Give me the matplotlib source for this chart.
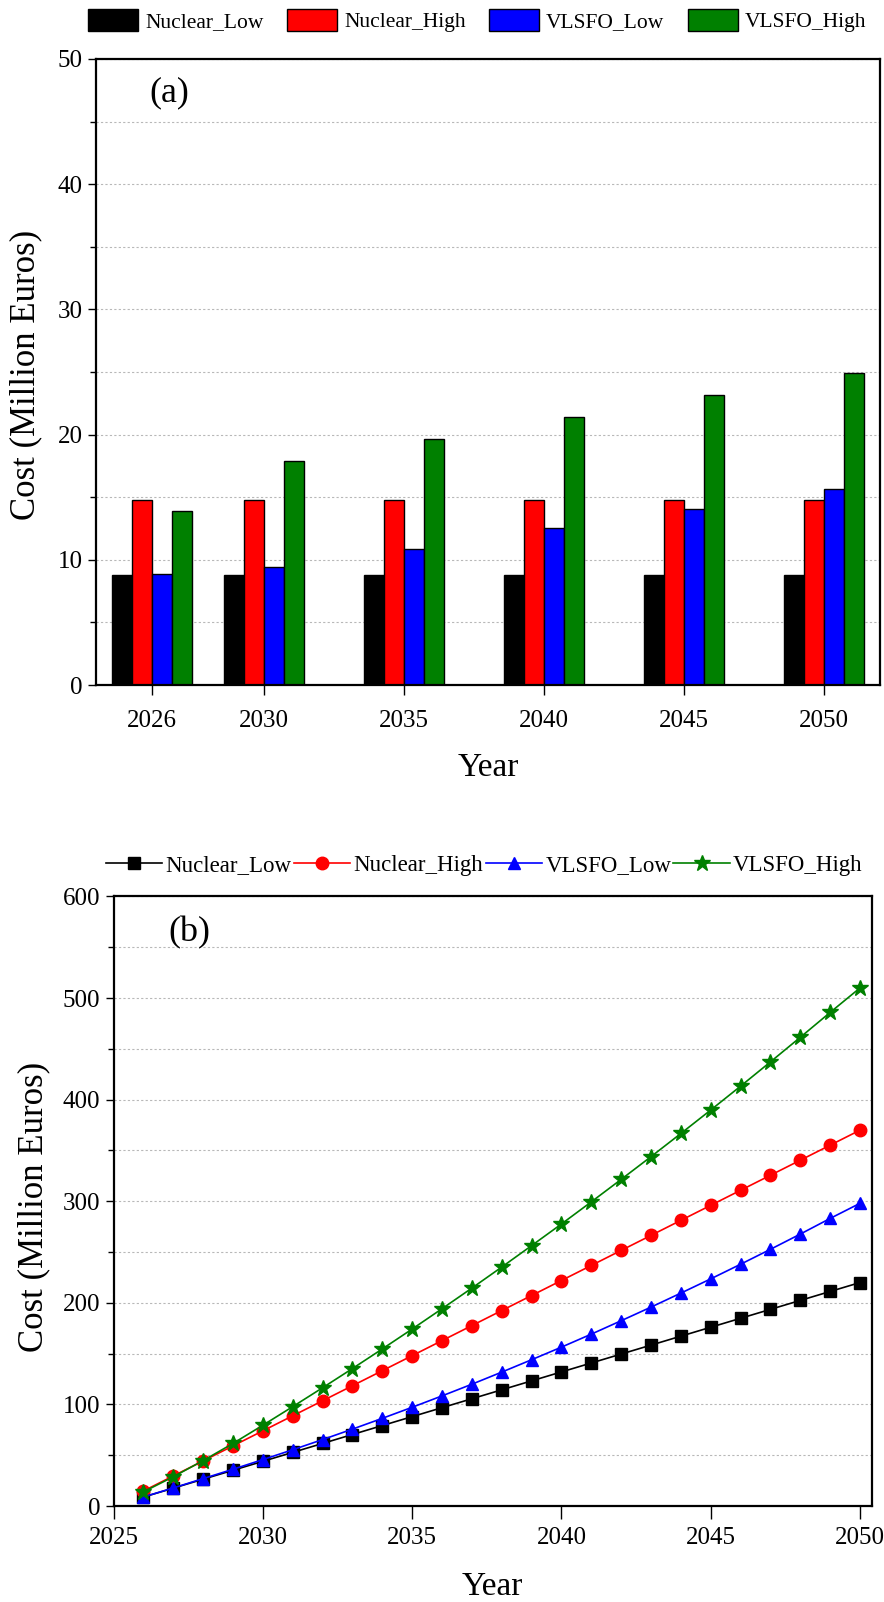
import numpy as np
import matplotlib
matplotlib.use("Agg")
import matplotlib.pyplot as plt
from matplotlib.ticker import MultipleLocator

plt.rcParams['font.family'] = ['Liberation Serif', 'DejaVu Serif']
plt.rcParams['mathtext.fontset'] = 'stix'

# ---- data ----
series = ["Nuclear_Low", "Nuclear_High", "VLSFO_Low", "VLSFO_High"]
colors = ["black", "red", "blue", "green"]

# (a) annual cost in selected years
bar_years = [2026, 2030, 2035, 2040, 2045, 2050]
nuc_low_bar = [8.8, 8.8, 8.8, 8.8, 8.8, 8.8]
nuc_high_bar = [14.8, 14.8, 14.8, 14.8, 14.8, 14.8]
vlsfo_low_bar = [8.9, 9.4, 10.9, 12.5, 14.05, 15.65]
vlsfo_high_bar = [13.9, 17.9, 19.65, 21.4, 23.15, 24.9]

# (b) cumulative cost, 2026-2050
years = list(range(2026, 2051))
nuc_low = [8.8, 17.6, 26.4, 35.2, 44.0, 52.8, 61.6, 70.4, 79.2, 88.0,
           96.8, 105.6, 114.4, 123.2, 132.0, 140.8, 149.6, 158.4, 167.2, 176.0,
           184.8, 193.6, 202.4, 211.2, 220.0]
nuc_high = [14.8, 29.6, 44.4, 59.2, 74.0, 88.8, 103.6, 118.4, 133.2, 148.0,
            162.8, 177.6, 192.4, 207.2, 222.0, 236.8, 251.6, 266.4, 281.2, 296.0,
            310.8, 325.6, 340.4, 355.2, 370.0]
vlsfo_low = [8.9, 17.8, 27.0, 36.2, 45.7, 55.4, 65.4, 75.7, 86.3, 97.2,
             108.4, 119.9, 131.8, 144.0, 156.4, 169.2, 182.4, 195.8, 209.6, 223.6,
             238.0, 252.7, 267.7, 283.1, 298.0]
vlsfo_high = [13.9, 28.8, 44.7, 61.6, 79.5, 97.8, 116.4, 135.3, 154.6, 174.2,
              194.2, 214.5, 235.2, 256.3, 277.6, 299.4, 321.5, 343.9, 366.7, 389.8,
              413.3, 437.2, 461.4, 485.9, 510.0]

fig = plt.figure(figsize=(8.84, 16.02), dpi=100)

tick_fs = 18
label_fs = 25


def style_axes(ax):
    for s in ax.spines.values():
        s.set_linewidth(1.6)
    ax.tick_params(axis='both', which='major', direction='out', length=6, width=1,
                   labelsize=tick_fs, top=False, right=False)
    ax.tick_params(axis='y', which='minor', direction='out', length=4, width=1, right=False)
    ax.grid(axis='y', which='both', color='#b8b8b8', linestyle=(0, (2, 2)), linewidth=0.8)
    ax.set_axisbelow(True)


# ---------- (a) ----------
ax1 = fig.add_axes([0.1086, 0.5724, 0.8869, 0.3908])
w = 0.72
bar_data = [nuc_low_bar, nuc_high_bar, vlsfo_low_bar, vlsfo_high_bar]
for i, (vals, c, name) in enumerate(zip(bar_data, colors, series)):
    xs = np.array(bar_years) + (i - 1.5) * w
    ax1.bar(xs, vals, width=w, color=c, edgecolor='black', linewidth=1, label=name)
ax1.set_xlim(2024, 2052)
ax1.set_ylim(0, 50)
ax1.set_xticks(bar_years)
ax1.yaxis.set_major_locator(MultipleLocator(10))
ax1.yaxis.set_minor_locator(MultipleLocator(5))
style_axes(ax1)
ax1.tick_params(axis='x', which='major', length=7, pad=11)
ax1.tick_params(axis='x', which='minor', bottom=False)
ax1.set_xlabel("Year", fontsize=label_fs - 1, va='center')
ax1.xaxis.set_label_coords(0.5, -0.1326)
ax1.set_ylabel("Cost (Million Euros)", fontsize=label_fs, va='center')
ax1.yaxis.set_label_coords(-0.089, 0.495)
ax1.text(0.093, 0.946, "(a)", transform=ax1.transAxes, fontsize=26,
         ha='center', va='center')

h1, l1 = ax1.get_legend_handles_labels()
fig.legend(h1, l1, loc='center', bbox_to_anchor=(0.54, 0.987), ncol=4, frameon=False,
           fontsize=15.5, handlelength=2.3, handleheight=1.15, handletextpad=0.34,
           columnspacing=1.1, borderaxespad=0, borderpad=0)

# ---------- (b) ----------
ax2 = fig.add_axes([0.1284, 0.0599, 0.858, 0.3805])
line_data = [nuc_low, nuc_high, vlsfo_low, vlsfo_high]
markers = ['s', 'o', '^', '*']
msizes = [8, 9, 9, 12]
for vals, c, m, ms, name in zip(line_data, colors, markers, msizes, series):
    ax2.plot(years, vals, color=c, marker=m, markersize=ms, linewidth=1.2, label=name)
ax2.set_xlim(2025, 2050.4)
ax2.set_ylim(0, 600)
ax2.xaxis.set_major_locator(MultipleLocator(5))
ax2.yaxis.set_major_locator(MultipleLocator(100))
ax2.yaxis.set_minor_locator(MultipleLocator(50))
style_axes(ax2)
ax2.tick_params(axis='x', which='major', length=9, pad=6)
ax2.tick_params(axis='x', which='minor', bottom=False)
ax2.set_xlabel("Year", fontsize=label_fs - 1, va='center')
ax2.xaxis.set_label_coords(0.5, -0.133)
ax2.set_ylabel("Cost (Million Euros)", fontsize=label_fs, va='center')
ax2.yaxis.set_label_coords(-0.105, 0.49)
ax2.text(0.0995, 0.94, "(b)", transform=ax2.transAxes, fontsize=26,
         ha='center', va='center')

h2, l2 = ax2.get_legend_handles_labels()
fig.legend(h2, l2, loc='center', bbox_to_anchor=(0.548, 0.46), ncol=4, frameon=False,
           fontsize=16.5, handlelength=2.45, handletextpad=0.15, columnspacing=0.1,
           borderaxespad=0, borderpad=0)

fig.savefig("out.png", dpi=100)
